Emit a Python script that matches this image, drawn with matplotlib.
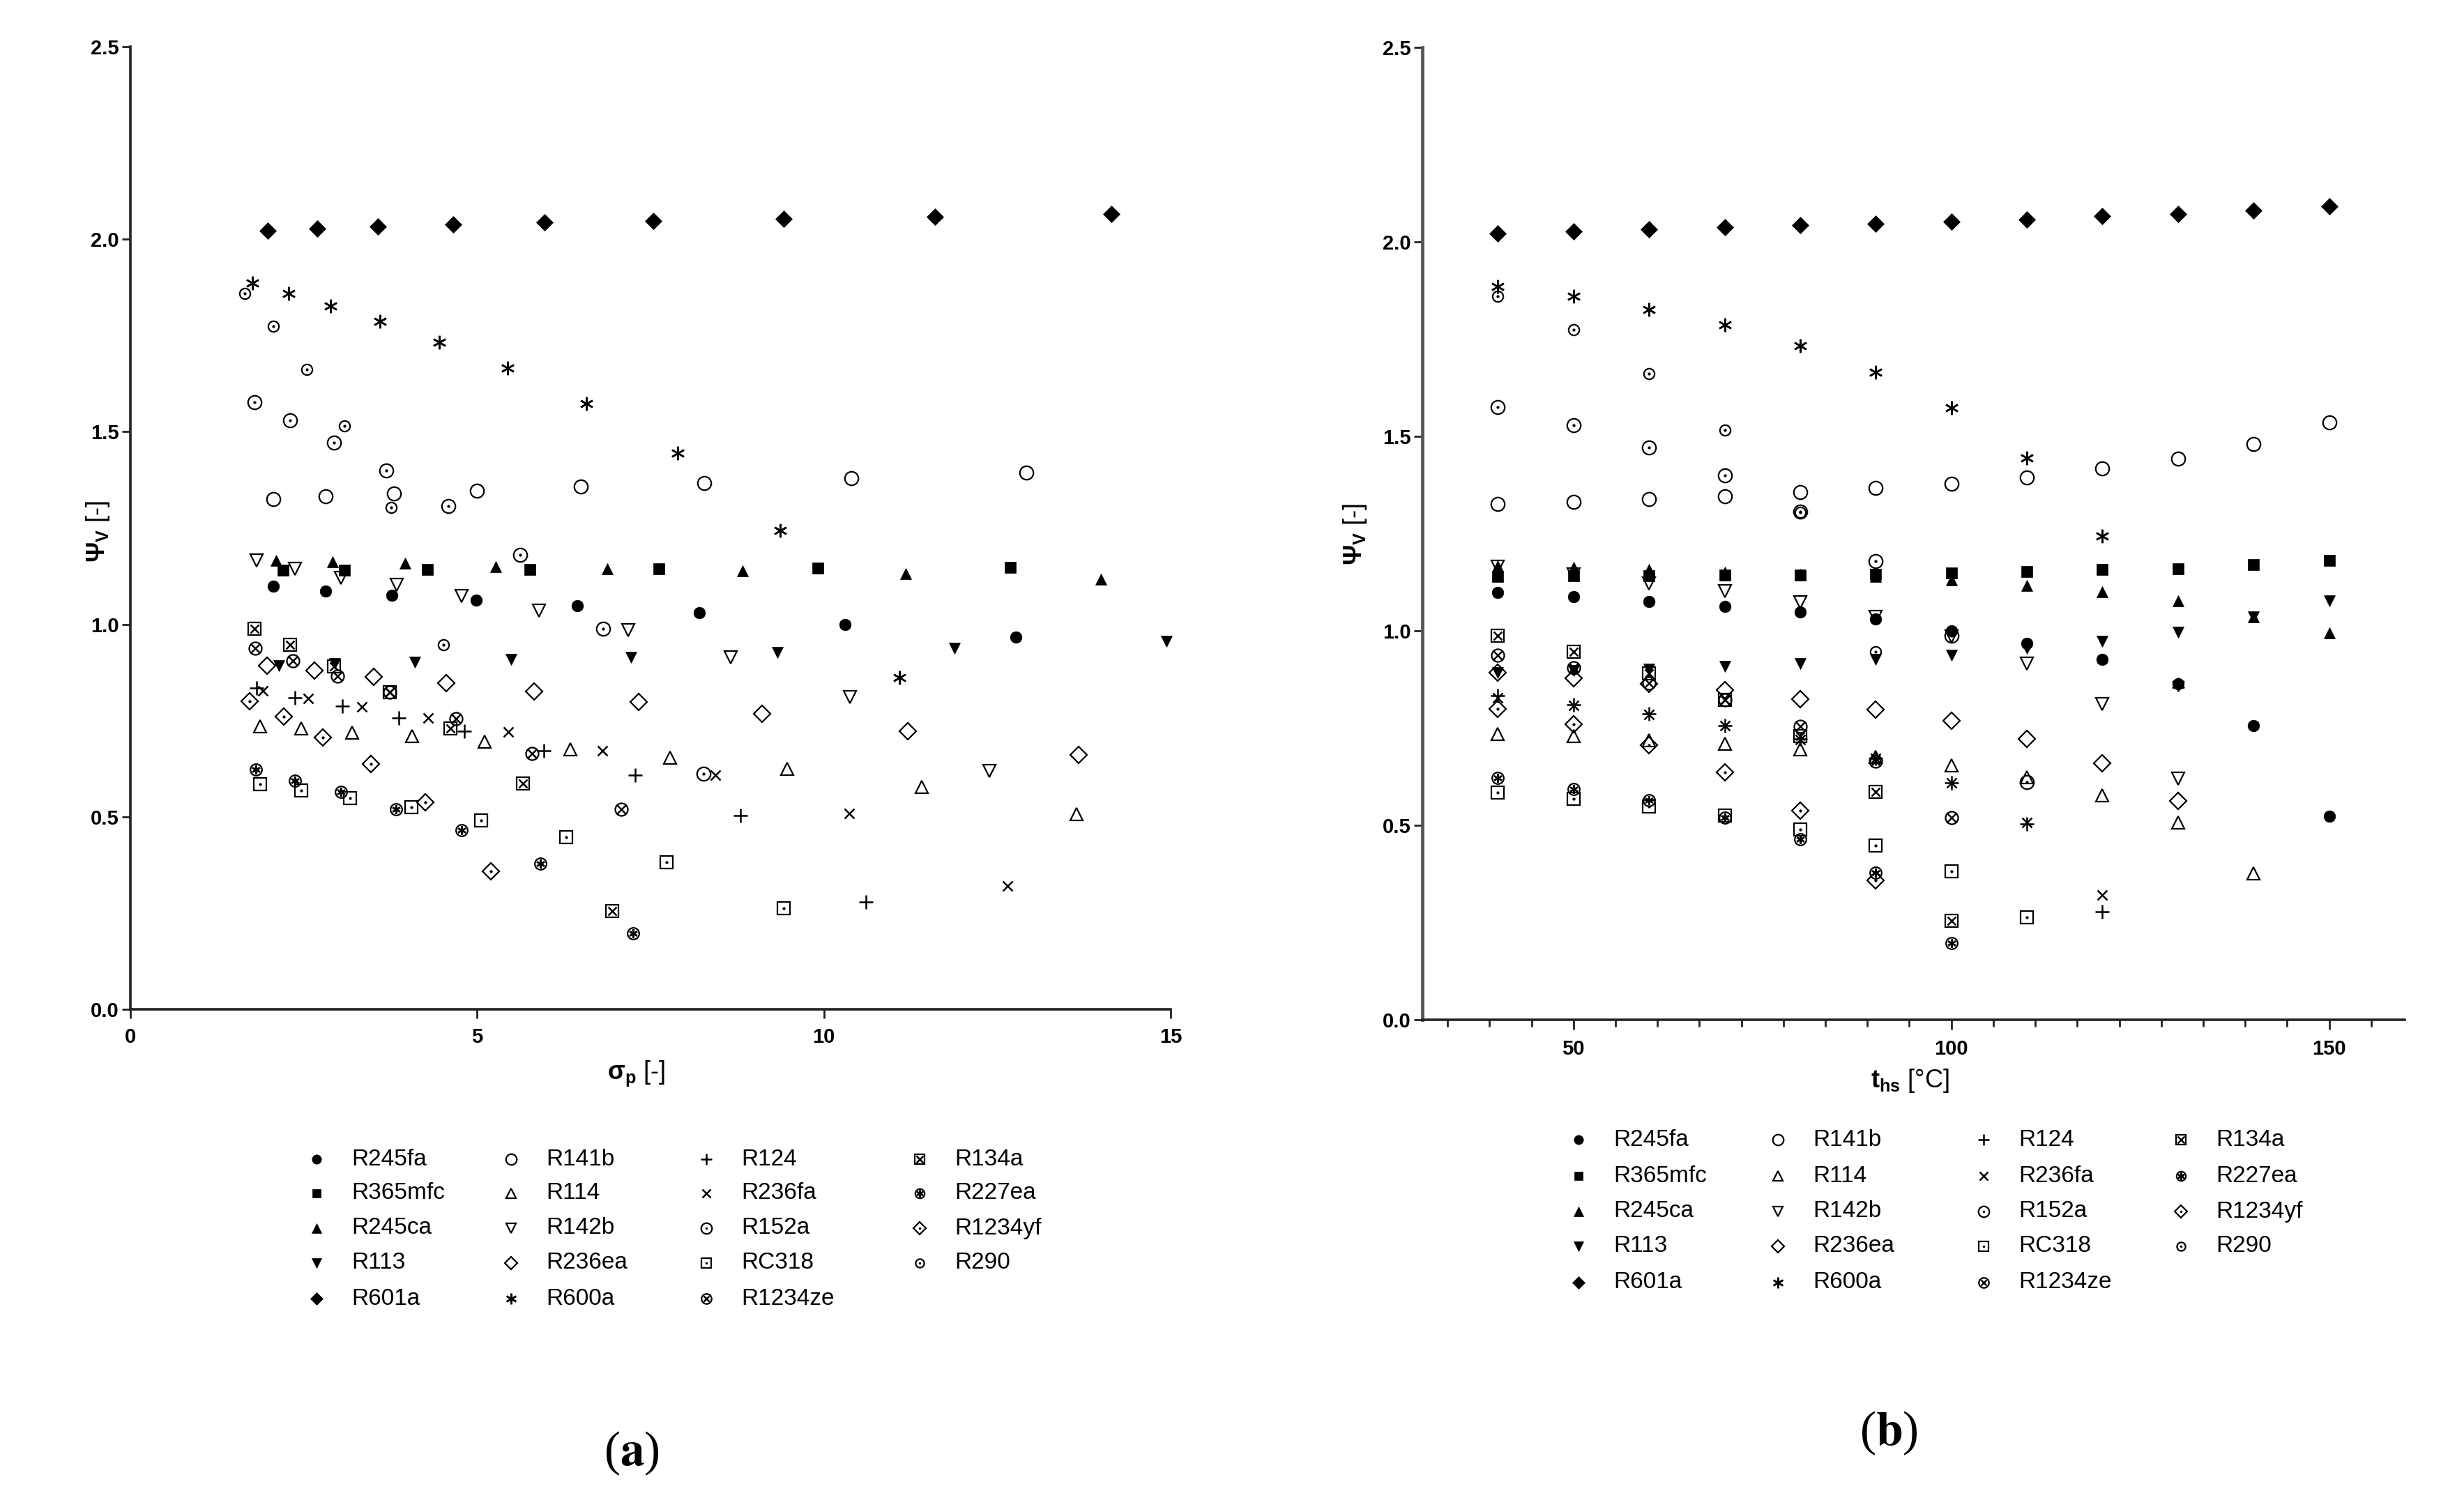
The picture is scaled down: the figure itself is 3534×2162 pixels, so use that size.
import matplotlib.pyplot as plt
from matplotlib.ticker import MultipleLocator, FormatStrFormatter

plt.rcParams['font.family'] = ['Liberation Sans', 'DejaVu Sans']
plt.rcParams['mathtext.fontset'] = 'custom'
plt.rcParams['mathtext.rm'] = 'Liberation Sans'
plt.rcParams['mathtext.bf'] = 'Liberation Sans:bold'
plt.rcParams['mathtext.it'] = 'Liberation Sans:bold'
plt.rcParams['mathtext.default'] = 'bf'

# heat source temperature steps (deg C)
t_hs = [40, 50, 60, 70, 80, 90, 100, 110, 120, 130, 140, 150]

# Psi_V per fluid (one value per temperature, starting at 40 C)
psi_r245fa = [1.098, 1.087, 1.076, 1.063, 1.048, 1.030, 1.000, 0.967, 0.927, 0.864, 0.756, 0.524]
psi_r365mfc = [1.140, 1.141, 1.142, 1.143, 1.144, 1.146, 1.148, 1.152, 1.157, 1.160, 1.170, 1.181]
psi_r245ca = [1.166, 1.163, 1.158, 1.150, 1.145, 1.139, 1.131, 1.117, 1.100, 1.077, 1.036, 0.994]
psi_r113 = [0.892, 0.897, 0.902, 0.908, 0.915, 0.927, 0.938, 0.955, 0.974, 0.996, 1.036, 1.077]
psi_r601a = [2.022, 2.027, 2.033, 2.038, 2.043, 2.047, 2.052, 2.058, 2.066, 2.071, 2.081, 2.092]
psi_r141b = [1.326, 1.332, 1.339, 1.346, 1.357, 1.367, 1.379, 1.394, 1.417, 1.443, 1.481, 1.535]
psi_r114 = [0.735, 0.730, 0.719, 0.709, 0.695, 0.676, 0.654, 0.624, 0.577, 0.507, 0.377]
psi_r142b = [1.165, 1.145, 1.121, 1.102, 1.074, 1.036, 0.985, 0.915, 0.811, 0.620]
psi_r236ea = [0.892, 0.879, 0.864, 0.847, 0.825, 0.798, 0.768, 0.722, 0.660, 0.563]
psi_r600a = [1.886, 1.860, 1.826, 1.786, 1.733, 1.665, 1.573, 1.444, 1.244, 0.862]
psi_r124 = [0.834, 0.810, 0.787, 0.757, 0.723, 0.672, 0.609, 0.504, 0.278]
psi_r236fa = [0.828, 0.808, 0.785, 0.757, 0.721, 0.672, 0.609, 0.508, 0.321]
psi_r152a = [1.576, 1.529, 1.471, 1.400, 1.307, 1.180, 0.988, 0.612]
psi_rc318 = [0.585, 0.568, 0.549, 0.525, 0.490, 0.448, 0.382, 0.263]
psi_r1234ze = [0.937, 0.905, 0.866, 0.823, 0.755, 0.665, 0.520]
psi_r134a = [0.988, 0.946, 0.890, 0.823, 0.729, 0.586, 0.255]
psi_r227ea = [0.622, 0.594, 0.564, 0.520, 0.465, 0.378, 0.197]
psi_r1234yf = [0.800, 0.760, 0.706, 0.637, 0.538, 0.359]
psi_r290 = [1.860, 1.774, 1.662, 1.516, 1.304, 0.946]

# sigma_p per fluid (only the points that fall inside 0..15)
sig_r245fa = [2.06, 2.82, 3.77, 4.99, 6.44, 8.20, 10.30, 12.77]
sig_r365mfc = [2.20, 3.09, 4.28, 5.76, 7.62, 9.91, 12.69]
sig_r245ca = [2.10, 2.92, 3.96, 5.27, 6.88, 8.83, 11.18, 13.99]
sig_r113 = [2.14, 2.95, 4.10, 5.49, 7.22, 9.33, 11.88, 14.94]
sig_r601a = [1.98, 2.69, 3.57, 4.65, 5.97, 7.54, 9.42, 11.60, 14.15]
sig_r141b = [2.06, 2.82, 3.80, 5.00, 6.49, 8.27, 10.40, 12.92]
sig_r114 = [1.87, 2.46, 3.20, 4.06, 5.11, 6.34, 7.78, 9.47, 11.41, 13.64]
sig_r142b = [1.82, 2.37, 3.04, 3.84, 4.78, 5.89, 7.18, 8.66, 10.38, 12.39]
sig_r236ea = [1.97, 2.65, 3.51, 4.55, 5.82, 7.33, 9.11, 11.21, 13.67]
sig_r600a = [1.76, 2.28, 2.89, 3.60, 4.45, 5.44, 6.58, 7.89, 9.37, 11.09]
sig_r124 = [1.82, 2.37, 3.06, 3.87, 4.82, 5.96, 7.28, 8.80, 10.61]
sig_r236fa = [1.91, 2.56, 3.34, 4.29, 5.45, 6.81, 8.43, 10.37, 12.65]
sig_r152a = [1.79, 2.30, 2.94, 3.69, 4.58, 5.62, 6.82, 8.26]
sig_rc318 = [1.87, 2.46, 3.17, 4.05, 5.06, 6.28, 7.73, 9.42]
sig_r1234ze = [1.80, 2.34, 2.99, 3.74, 4.70, 5.79, 7.08]
sig_r134a = [1.79, 2.30, 2.94, 3.74, 4.61, 5.66, 6.95]
sig_r227ea = [1.81, 2.37, 3.04, 3.83, 4.78, 5.91, 7.25]
sig_r1234yf = [1.72, 2.21, 2.77, 3.47, 4.25, 5.20]
sig_r290 = [1.65, 2.06, 2.54, 3.09, 3.76, 4.51]

series = [
    ('R245fa', sig_r245fa, psi_r245fa),
    ('R365mfc', sig_r365mfc, psi_r365mfc),
    ('R245ca', sig_r245ca, psi_r245ca),
    ('R113', sig_r113, psi_r113),
    ('R601a', sig_r601a, psi_r601a),
    ('R141b', sig_r141b, psi_r141b),
    ('R114', sig_r114, psi_r114),
    ('R142b', sig_r142b, psi_r142b),
    ('R236ea', sig_r236ea, psi_r236ea),
    ('R600a', sig_r600a, psi_r600a),
    ('R124', sig_r124, psi_r124),
    ('R236fa', sig_r236fa, psi_r236fa),
    ('R152a', sig_r152a, psi_r152a),
    ('RC318', sig_rc318, psi_rc318),
    ('R1234ze', sig_r1234ze, psi_r1234ze),
    ('R134a', sig_r134a, psi_r134a),
    ('R227ea', sig_r227ea, psi_r227ea),
    ('R1234yf', sig_r1234yf, psi_r1234yf),
    ('R290', sig_r290, psi_r290),
]

# marker layers: (marker, size, kind) kind f=filled, o=open, l=line marker
ast = (6, 2, 0)
markers = {
    'R245fa': [('o', 12, 'f')],
    'R365mfc': [('s', 11, 'f')],
    'R245ca': [('^', 12, 'f')],
    'R113': [('v', 12, 'f')],
    'R601a': [('D', 12, 'f')],
    'R141b': [('o', 14, 'o')],
    'R114': [('^', 13, 'o')],
    'R142b': [('v', 13, 'o')],
    'R236ea': [('D', 12, 'o')],
    'R600a': [(ast, 14, 'l')],
    'R124': [('+', 15, 'l')],
    'R236fa': [('x', 10, 'l')],
    'R152a': [('o', 14, 'o'), ('o', 2.5, 'f')],
    'RC318': [('s', 13, 'o'), ('o', 2.5, 'f')],
    'R1234ze': [('o', 13, 'o'), ('x', 8, 'l')],
    'R134a': [('s', 13, 'o'), ('x', 9, 'l')],
    'R227ea': [('o', 12, 'o'), (ast, 9, 'l')],
    'R1234yf': [('D', 12, 'o'), ('o', 2.5, 'f')],
    'R290': [('o', 11, 'o'), ('o', 2.5, 'f')],
}


def draw(ax, name, x, y, scale=1.0, **kw):
    for m, s, kind in markers[name]:
        if kind == 'f':
            style = dict(mfc='black', mec='black', mew=0.5)
        elif kind == 'o':
            style = dict(mfc='none', mec='black', mew=1.6)
        else:
            style = dict(mec='black', mew=1.8)
        ax.plot(x, y, linestyle='none', marker=m, ms=s * scale, **style, **kw)


W, H = 3534, 2162
fig = plt.figure(figsize=(W / 100, H / 100), dpi=100)

ax1 = fig.add_axes([187 / W, 1 - 1448 / H, (1679 - 187) / W, (1448 - 67) / H])
ax2 = fig.add_axes([2040 / W, 1 - 1463 / H, (3449 - 2040) / W, (1463 - 68) / H])

for name, sig, psi in series:
    draw(ax1, name, sig, psi[:len(sig)], clip_on=False)
    draw(ax2, name, t_hs[:len(psi)], psi, clip_on=False)

for ax in (ax1, ax2):
    ax.set_ylim(0, 2.5)
    ax.yaxis.set_major_locator(MultipleLocator(0.5))
    ax.yaxis.set_major_formatter(FormatStrFormatter('%.1f'))
    for side in ('top', 'right'):
        ax.spines[side].set_visible(False)
    for side in ('left', 'bottom'):
        ax.spines[side].set_linewidth(2.6)
        ax.spines[side].set_color('#222222')
    ax.tick_params(which='major', length=9, width=2, pad=3, labelsize=21,
                   color='#222222')

ax1.set_xlim(0, 15)
ax1.xaxis.set_major_locator(MultipleLocator(5))
ax1.tick_params(axis='x', pad=10)

ax2.set_xlim(30, 160)
ax2.set_xticks([50, 100, 150])
ax2.xaxis.set_minor_locator(MultipleLocator(50 / 9))
ax2.tick_params(axis='x', which='major', length=10, pad=10)
ax2.tick_params(axis='x', which='minor', length=7, width=2, color='#222222')
ax2.spines['left'].set_color('#555555')
ax2.spines['left'].set_linewidth(3.4)
for lab in ax1.get_xticklabels() + ax1.get_yticklabels() + ax2.get_xticklabels() + ax2.get_yticklabels():
    lab.set_fontweight('bold')

# overlay in pixel coordinates for labels and legends
ov = fig.add_axes([0, 0, 1, 1], zorder=-1)
ov.set_xlim(0, W)
ov.set_ylim(H, 0)
ov.axis('off')

lab_kw = dict(ha='center', va='center', fontsize=26)
ov.text(913, 1540, r'$\sigma_p$ [-]', **lab_kw)
ov.text(140, 762, r'$\Psi_V$ [-]', rotation=90, **lab_kw)
ov.text(2739, 1551, r'$t_{hs}$ [°C]', **lab_kw)
ov.text(1943, 766, r'$\Psi_V$ [-]', rotation=90, **lab_kw)

ov.text(906, 2085, r'($\mathbf{a}$)', ha='center', va='center', fontsize=50,
        family='Liberation Serif', math_fontfamily='stix')
ov.text(2709, 2056, r'($\mathbf{b}$)', ha='center', va='center', fontsize=50,
        family='Liberation Serif', math_fontfamily='stix')

legends = [
    ([454, 733, 1013, 1319], [1663, 1712, 1762, 1812, 1863]),
    ([2264, 2550, 2845, 3128], [1635, 1687, 1738, 1788, 1840]),
]
for cols, rows in legends:
    for i, (name, sig, psi) in enumerate(series):
        cx = cols[i // 5]
        cy = rows[i % 5]
        draw(ov, name, [cx], [cy], scale=0.8)
        ov.text(cx + 50, cy, name, ha='left', va='center', fontsize=24,
                family=['Liberation Sans Narrow', 'Liberation Sans'])

fig.savefig('out.png', dpi=100, facecolor='white')
